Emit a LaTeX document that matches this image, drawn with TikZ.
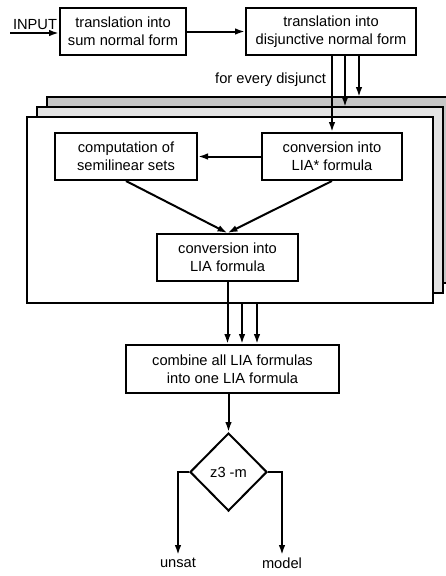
\documentclass[tikz,border=0pt]{standalone}
\usepackage{fontspec}
\setmainfont{Liberation Sans}
\usetikzlibrary{arrows,arrows.meta,shapes.geometric}

\begin{document}
\begin{tikzpicture}[
x=0.75pt,y=-0.75pt,
box/.style={draw,line width=1.5pt,fill=white,align=center,minimum height=35.25pt,font=\fontsize{11}{13.5}\selectfont},
decision/.style={draw,diamond,line width=1.5pt,fill=white,inner sep=0pt,minimum width=57.75pt,minimum height=58.5pt,font=\fontsize{11}{13.5}\selectfont},
txt/.style={font=\fontsize{11}{13.5}\selectfont,inner sep=2pt},
layer/.style={draw,line width=1.5pt},
arrow/.style={-{Latex[length=7.5pt,width=5pt]},line width=1.5pt}]

\useasboundingbox (0,0) rectangle (446,576);

% stacked layers, one per disjunct
\draw[layer,fill=gray!45] (47,97) rectangle (453,283);
\draw[layer,fill=gray!22] (37,107) rectangle (443,293);
\draw[layer,fill=white] (27,117) rectangle (433,303);

\node[box,minimum width=94.5pt] (snf) at (123,31.5) {translation into\\sum normal form};
\node[box,minimum width=127.5pt] (dnf) at (331,31.5) {translation into\\disjunctive normal form};
\node[txt] (input) at (35,25) {INPUT};
\coordinate (start) at (10,33);
\node[txt,anchor=east] (every) at (329,80) {for every disjunct};

\node[box,minimum width=106.5pt] (semi) at (126,156.5) {computation of\\semilinear sets};
\node[box,minimum width=105pt] (liastar) at (332,156.5) {conversion into\\LIA* formula};
\node[box,minimum width=105.75pt] (lia) at (227.5,257.5) {conversion into\\LIA formula};
\node[box,minimum width=159.75pt,minimum height=36pt] (comb) at (232.5,369) {combine all LIA formulas\\into one LIA formula};
\node[decision] (z3) at (228.5,472) {z3 -m};
\node[txt,anchor=north] (unsat) at (178,555) {unsat};
\node[txt,anchor=north] (model) at (282,555) {model};

\coordinate (top2) at (345,107);
\coordinate (top3) at (359,97);
\coordinate (out2) at (242,303);
\coordinate (out3) at (257,303);

\draw[arrow] (start) -- (start -| snf.west);
\draw[arrow] (snf) -- (dnf);
\draw[arrow] (dnf.south -| liastar.north) -- (liastar.north);
\draw[arrow] (dnf.south -| top2) -- (top2);
\draw[arrow] (dnf.south -| top3) -- (top3);
\draw[arrow] (liastar) -- (semi);
\draw[arrow] (semi.south) -- (lia.north);
\draw[arrow] (liastar.south) -- (lia.north);
\draw[arrow] (lia.south) -- (lia.south |- comb.north);
\draw[arrow] (out2) -- (out2 |- comb.north);
\draw[arrow] (out3) -- (out3 |- comb.north);
\draw[arrow] (comb.south -| z3.north) -- (z3.north);
\draw[arrow] (z3.west) -| (unsat.north);
\draw[arrow] (z3.east) -| (model.north);

\end{tikzpicture}
\end{document}
